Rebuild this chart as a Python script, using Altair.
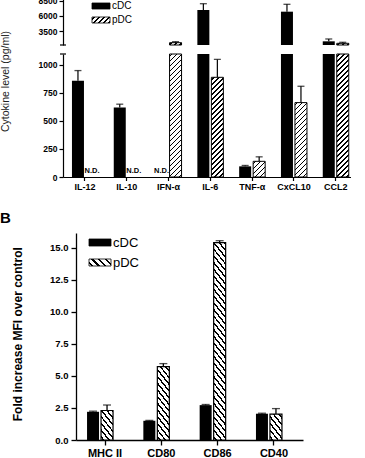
import altair as alt
import pandas as pd

FONT = "Liberation Sans"

# ---- Panel A: cytokine secretion (pg/ml), mean and SEM; None = not detected
cytokines = ["IL-12", "IL-10", "IFN-α", "IL-6", "TNF-α", "CxCL10", "CCL2"]
cells = ["cDC", "pDC"]
cdc_level = [860, 620, None, 7000, 95, 6720, 1780]
cdc_sem = [90, 30, None, 1050, 8, 1230, 390]
pdc_level = [None, None, 1550, 890, 140, 664, 1450]
pdc_sem = [None, None, 170, 160, 40, 146, 170]
low_ticks = [0, 250, 500, 750, 1000]
high_ticks = [3500, 6000, 8500]

# ---- Panel B: fold increase of surface-marker MFI over control
markers = ["MHC II", "CD80", "CD86", "CD40"]
cdc_fold = [2.2, 1.5, 2.72, 2.05]
cdc_fold_sem = [0.05, 0.03, 0.05, 0.04]
pdc_fold = [2.3, 5.73, 15.4, 2.02]
pdc_fold_sem = [0.43, 0.23, 0.15, 0.43]
fold_ticks = [0, 2.5, 5, 7.5, 10, 12.5, 15]

# broken y axis of panel A: lower and upper segments
LOW_TOP = 1098
HIGH_BOTTOM, HIGH_TOP = 1167, 8833
W_A, H_LOW, H_HIGH = 288, 123, 46
# panel B plot starts B_SHIFT px right of panel A's plot
B_SHIFT = 13
W_B, H_B, B_TOP = 227, 207, 16.15

PI_A, PO_A, OFF_PI_A = 0.378, 0.134, 1 / 7
PI_B, PO_B, OFF_PI_B = 0.3606, 0.196, 0.2857


def long_table(groups, c_mean, c_sem, p_mean, p_sem):
    rows = []
    for i, g in enumerate(groups):
        for cell, m, s in (("cDC", c_mean[i], c_sem[i]), ("pDC", p_mean[i], p_sem[i])):
            rows.append({"group": g, "cell": cell, "mean": m,
                         "upper": None if m is None else m + s,
                         "detected": m is not None})
    return pd.DataFrame(rows)


def band_width(span, n, p_in, p_out):
    step = span / max(1, n - p_in + 2 * p_out)
    return step * (1 - p_in)


def hatch(w, h, period, thick, direction):
    """Diagonal stripes as a hard-stop linear gradient in bounding-box units."""
    w = max(w, 0.5)
    h = max(h, 0.5)
    span = w + h
    k = (w * w + h * h) / span
    if direction == "/":
        x1, y1, x2, y2 = 0, 0, w / k, h / k
    else:
        x1, y1, x2, y2 = 0, 1, w / k, 1 - h / k
    stops = [{"offset": 0, "color": "white"}]
    c = period / 2
    while c - thick / 2 < span:
        a = max(0.0, (c - thick / 2) / span)
        b = min(1.0, (c + thick / 2) / span)
        stops += [{"offset": a, "color": "white"}, {"offset": a, "color": "black"},
                  {"offset": b, "color": "black"}, {"offset": b, "color": "white"}]
        c += period
    stops.append({"offset": 1, "color": "white"})
    return {"gradient": "linear", "x1": x1, "y1": y1, "x2": x2, "y2": y2, "stops": stops}


dfa = long_table(cytokines, cdc_level, cdc_sem, pdc_level, pdc_sem)
dfb = long_table(markers, cdc_fold, cdc_fold_sem, pdc_fold, pdc_fold_sem)

bar_w_a = band_width(band_width(W_A, len(cytokines), PI_A, PO_A), 2, OFF_PI_A, 0)
bar_w_b = band_width(band_width(W_B, len(markers), PI_B, PO_B), 2, OFF_PI_B, 0)

# ---------------- Panel A ----------------
x_scale_a = alt.Scale(domain=cytokines, paddingInner=PI_A, paddingOuter=PO_A, align=0.8)
off_scale_a = alt.Scale(domain=cells, paddingInner=OFF_PI_A, paddingOuter=0)
x_axis_a = alt.Axis(title=None, labelAngle=0, tickSize=3.5, labelPadding=2,
                    labelFontSize=9, domainWidth=1.2, tickWidth=1.2)

Y_TITLE_A = "Cytokine level (pg/ml)"
low_scale = alt.Scale(domain=[0, LOW_TOP], nice=False, zero=True, clamp=True)
low_axis = alt.Axis(values=low_ticks, format="d", tickSize=4, labelPadding=2, labelFontSize=8.5,
                    domainWidth=1.2, tickWidth=1.2,
                    titleX=-58, titleY=27, titleAngle=270, titleAlign="center",
                    titleBaseline="middle", titleFontSize=10.5, titleFontWeight="normal",
                    titleColor="#222222")
high_scale = alt.Scale(domain=[HIGH_BOTTOM, HIGH_TOP], nice=False, zero=False)
high_axis = alt.Axis(values=high_ticks, format="d", tickSize=4, labelPadding=2, labelFontSize=8.5,
                     domainWidth=1.2, tickWidth=1.2, title=None)


def enc_a(axis, y_scale, y_axis, field="mean", title=Y_TITLE_A):
    return dict(
        x=alt.X("group:N", scale=x_scale_a, axis=axis),
        xOffset=alt.XOffset("cell:N", scale=off_scale_a),
        y=alt.Y(f"{field}:Q", scale=y_scale, axis=y_axis, title=title),
    )


det = dfa[dfa["detected"]]
cdc_a = det[det["cell"] == "cDC"]
pdc_a = det[det["cell"] == "pDC"]

# lower segment (0 .. ~1100)
low_layers = [alt.Chart(cdc_a).mark_bar(color="black").encode(**enc_a(x_axis_a, low_scale, low_axis))]
for _, r in pdc_a.iterrows():
    h = min(r["mean"], LOW_TOP) / LOW_TOP * H_LOW
    low_layers.append(
        alt.Chart(pdc_a[pdc_a["group"] == r["group"]])
        .mark_bar(fill=hatch(bar_w_a, h, 5, 1.7, "/"), stroke="black", strokeWidth=1)
        .encode(**enc_a(x_axis_a, low_scale, low_axis))
    )
err_low = det[det["upper"] <= LOW_TOP]
low_layers.append(
    alt.Chart(err_low).mark_rule(color="black", strokeWidth=1.2)
    .encode(**enc_a(x_axis_a, low_scale, low_axis), y2="upper:Q")
)
low_layers.append(
    alt.Chart(err_low).mark_tick(color="black", thickness=1.3, size=7)
    .encode(**enc_a(x_axis_a, low_scale, low_axis, field="upper"))
)
nd = dfa[~dfa["detected"]]
low_layers.append(
    alt.Chart(nd).mark_text(text="N.D.", font=FONT, fontSize=7.5, fontWeight="bold",
                            baseline="bottom", dy=-2, color="black")
    .encode(x=alt.X("group:N", scale=x_scale_a, axis=x_axis_a),
            xOffset=alt.XOffset("cell:N", scale=off_scale_a),
            y=alt.Y(datum=0, scale=low_scale, axis=low_axis, title=Y_TITLE_A))
)
low_layers.append(
    alt.Chart(pd.DataFrame({"k": [0]})).mark_rule(color="black", strokeWidth=1.2)
    .encode(x=alt.value(-3), x2=alt.value(3), y=alt.value(0))
)
lower = alt.layer(*low_layers).properties(width=W_A, height=H_LOW)

# upper segment (~1200 .. 8800)
high = det[det["mean"] > HIGH_BOTTOM]
cdc_high = high[high["cell"] == "cDC"]
pdc_high = high[high["cell"] == "pDC"]
base_y2 = alt.datum(HIGH_BOTTOM)
high_layers = [
    alt.Chart(cdc_high).mark_bar(color="black")
    .encode(**enc_a(None, high_scale, high_axis, title=None), y2=base_y2)
]
for _, r in pdc_high.iterrows():
    h = (r["mean"] - HIGH_BOTTOM) / (HIGH_TOP - HIGH_BOTTOM) * H_HIGH
    high_layers.append(
        alt.Chart(pdc_high[pdc_high["group"] == r["group"]])
        .mark_bar(fill=hatch(bar_w_a, h, 5, 1.7, "/"), stroke="black", strokeWidth=1)
        .encode(**enc_a(None, high_scale, high_axis, title=None), y2=base_y2)
    )
high_layers.append(
    alt.Chart(high).mark_rule(color="black", strokeWidth=1.2)
    .encode(**enc_a(None, high_scale, high_axis, title=None), y2="upper:Q")
)
high_layers.append(
    alt.Chart(high).mark_tick(color="black", thickness=1.3, size=7)
    .encode(**enc_a(None, high_scale, high_axis, field="upper", title=None))
)
high_layers.append(
    alt.Chart(pd.DataFrame({"k": [0]})).mark_rule(color="black", strokeWidth=1.2)
    .encode(x=alt.value(-3), x2=alt.value(3), y=alt.value(H_HIGH))
)
# legend of panel A
leg_a = pd.DataFrame({"label": cells})
for i, cell in enumerate(cells):
    y0 = 4 + 14 * i
    fill = "black" if cell == "cDC" else hatch(18, 6, 5, 1.7, "/")
    high_layers.append(
        alt.Chart(leg_a[leg_a["label"] == cell])
        .mark_rect(fill=fill, stroke="black", strokeWidth=0.8)
        .encode(x=alt.value(29), x2=alt.value(47), y=alt.value(y0), y2=alt.value(y0 + 6))
    )
    high_layers.append(
        alt.Chart(leg_a[leg_a["label"] == cell])
        .mark_text(align="left", baseline="middle", font=FONT, fontSize=10, color="black")
        .encode(x=alt.value(49), y=alt.value(y0 + 3), text="label:N")
    )
upper = alt.layer(*high_layers).properties(width=W_A, height=H_HIGH)

panel_a = alt.vconcat(upper, lower, spacing=9, bounds="flush")

# ---------------- Panel B ----------------
x_scale_b = alt.Scale(domain=markers, paddingInner=PI_B, paddingOuter=PO_B,
                      range=[B_SHIFT, B_SHIFT + W_B])
off_scale_b = alt.Scale(domain=cells, paddingInner=OFF_PI_B, paddingOuter=0)
x_axis_b = alt.Axis(title=None, labelAngle=0, tickSize=5, labelPadding=2,
                    labelFontSize=11, domainWidth=1.3, tickWidth=1.3)
Y_TITLE_B = "Fold increase MFI over control"
b_scale = alt.Scale(domain=[0, B_TOP], nice=False, zero=True)
b_axis = alt.Axis(values=fold_ticks, format=".1f", tickSize=5, labelPadding=3,
                  labelFontSize=9.5, domainWidth=1.3, tickWidth=1.3, offset=-B_SHIFT,
                  titleX=-59, titleY=100.7, titleAngle=270, titleAlign="center",
                  titleBaseline="middle", titleFontSize=12, titleFontWeight="bold")


def enc_b(field="mean"):
    return dict(
        x=alt.X("group:N", scale=x_scale_b, axis=x_axis_b),
        xOffset=alt.XOffset("cell:N", scale=off_scale_b),
        y=alt.Y(f"{field}:Q", scale=b_scale, axis=b_axis, title=Y_TITLE_B),
    )


cdc_b = dfb[dfb["cell"] == "cDC"]
pdc_b = dfb[dfb["cell"] == "pDC"]
b_layers = [alt.Chart(cdc_b).mark_bar(color="black").encode(**enc_b())]
for _, r in pdc_b.iterrows():
    h = r["mean"] / B_TOP * H_B
    b_layers.append(
        alt.Chart(pdc_b[pdc_b["group"] == r["group"]])
        .mark_bar(fill=hatch(bar_w_b, h, 6.7, 2.2, "\\"), stroke="black", strokeWidth=1.2)
        .encode(**enc_b())
    )
b_layers.append(alt.Chart(dfb).mark_rule(color="black", strokeWidth=1.3).encode(**enc_b(), y2="upper:Q"))
b_layers.append(alt.Chart(dfb).mark_tick(color="black", thickness=1.3, size=8).encode(**enc_b("upper")))
leg_b = pd.DataFrame({"label": cells})
for i, cell in enumerate(cells):
    y0 = 6 + 20 * i
    fill = "black" if cell == "cDC" else hatch(22, 7, 6.7, 2.2, "\\")
    b_layers.append(
        alt.Chart(leg_b[leg_b["label"] == cell])
        .mark_rect(fill=fill, stroke="black", strokeWidth=0.8)
        .encode(x=alt.value(B_SHIFT + 13), x2=alt.value(B_SHIFT + 35),
                y=alt.value(y0), y2=alt.value(y0 + 7))
    )
    b_layers.append(
        alt.Chart(leg_b[leg_b["label"] == cell])
        .mark_text(align="left", baseline="middle", font=FONT, fontSize=13, color="black")
        .encode(x=alt.value(B_SHIFT + 37), y=alt.value(y0 + 3.5), text="label:N")
    )
panel_b = alt.layer(*b_layers).properties(
    width=W_B + B_SHIFT, height=H_B,
    title=alt.TitleParams("B", anchor="start", frame="group", dx=-63, offset=7,
                          fontSize=15, fontWeight="bold", font=FONT, color="black"),
)

chart = (
    alt.concat(panel_a, panel_b, columns=1, spacing=19, align="none")
    .properties(padding={"left": 0, "top": -4, "right": 0, "bottom": 0}, background="white")
    .configure_view(stroke=None)
    .configure_axis(labelFont=FONT, labelFontWeight="bold", labelColor="black",
                    titleFont=FONT, titleColor="black", domainColor="black",
                    tickColor="black", grid=False)
)

chart.save("out.html", embed_options={"renderer": "svg", "actions": False})
